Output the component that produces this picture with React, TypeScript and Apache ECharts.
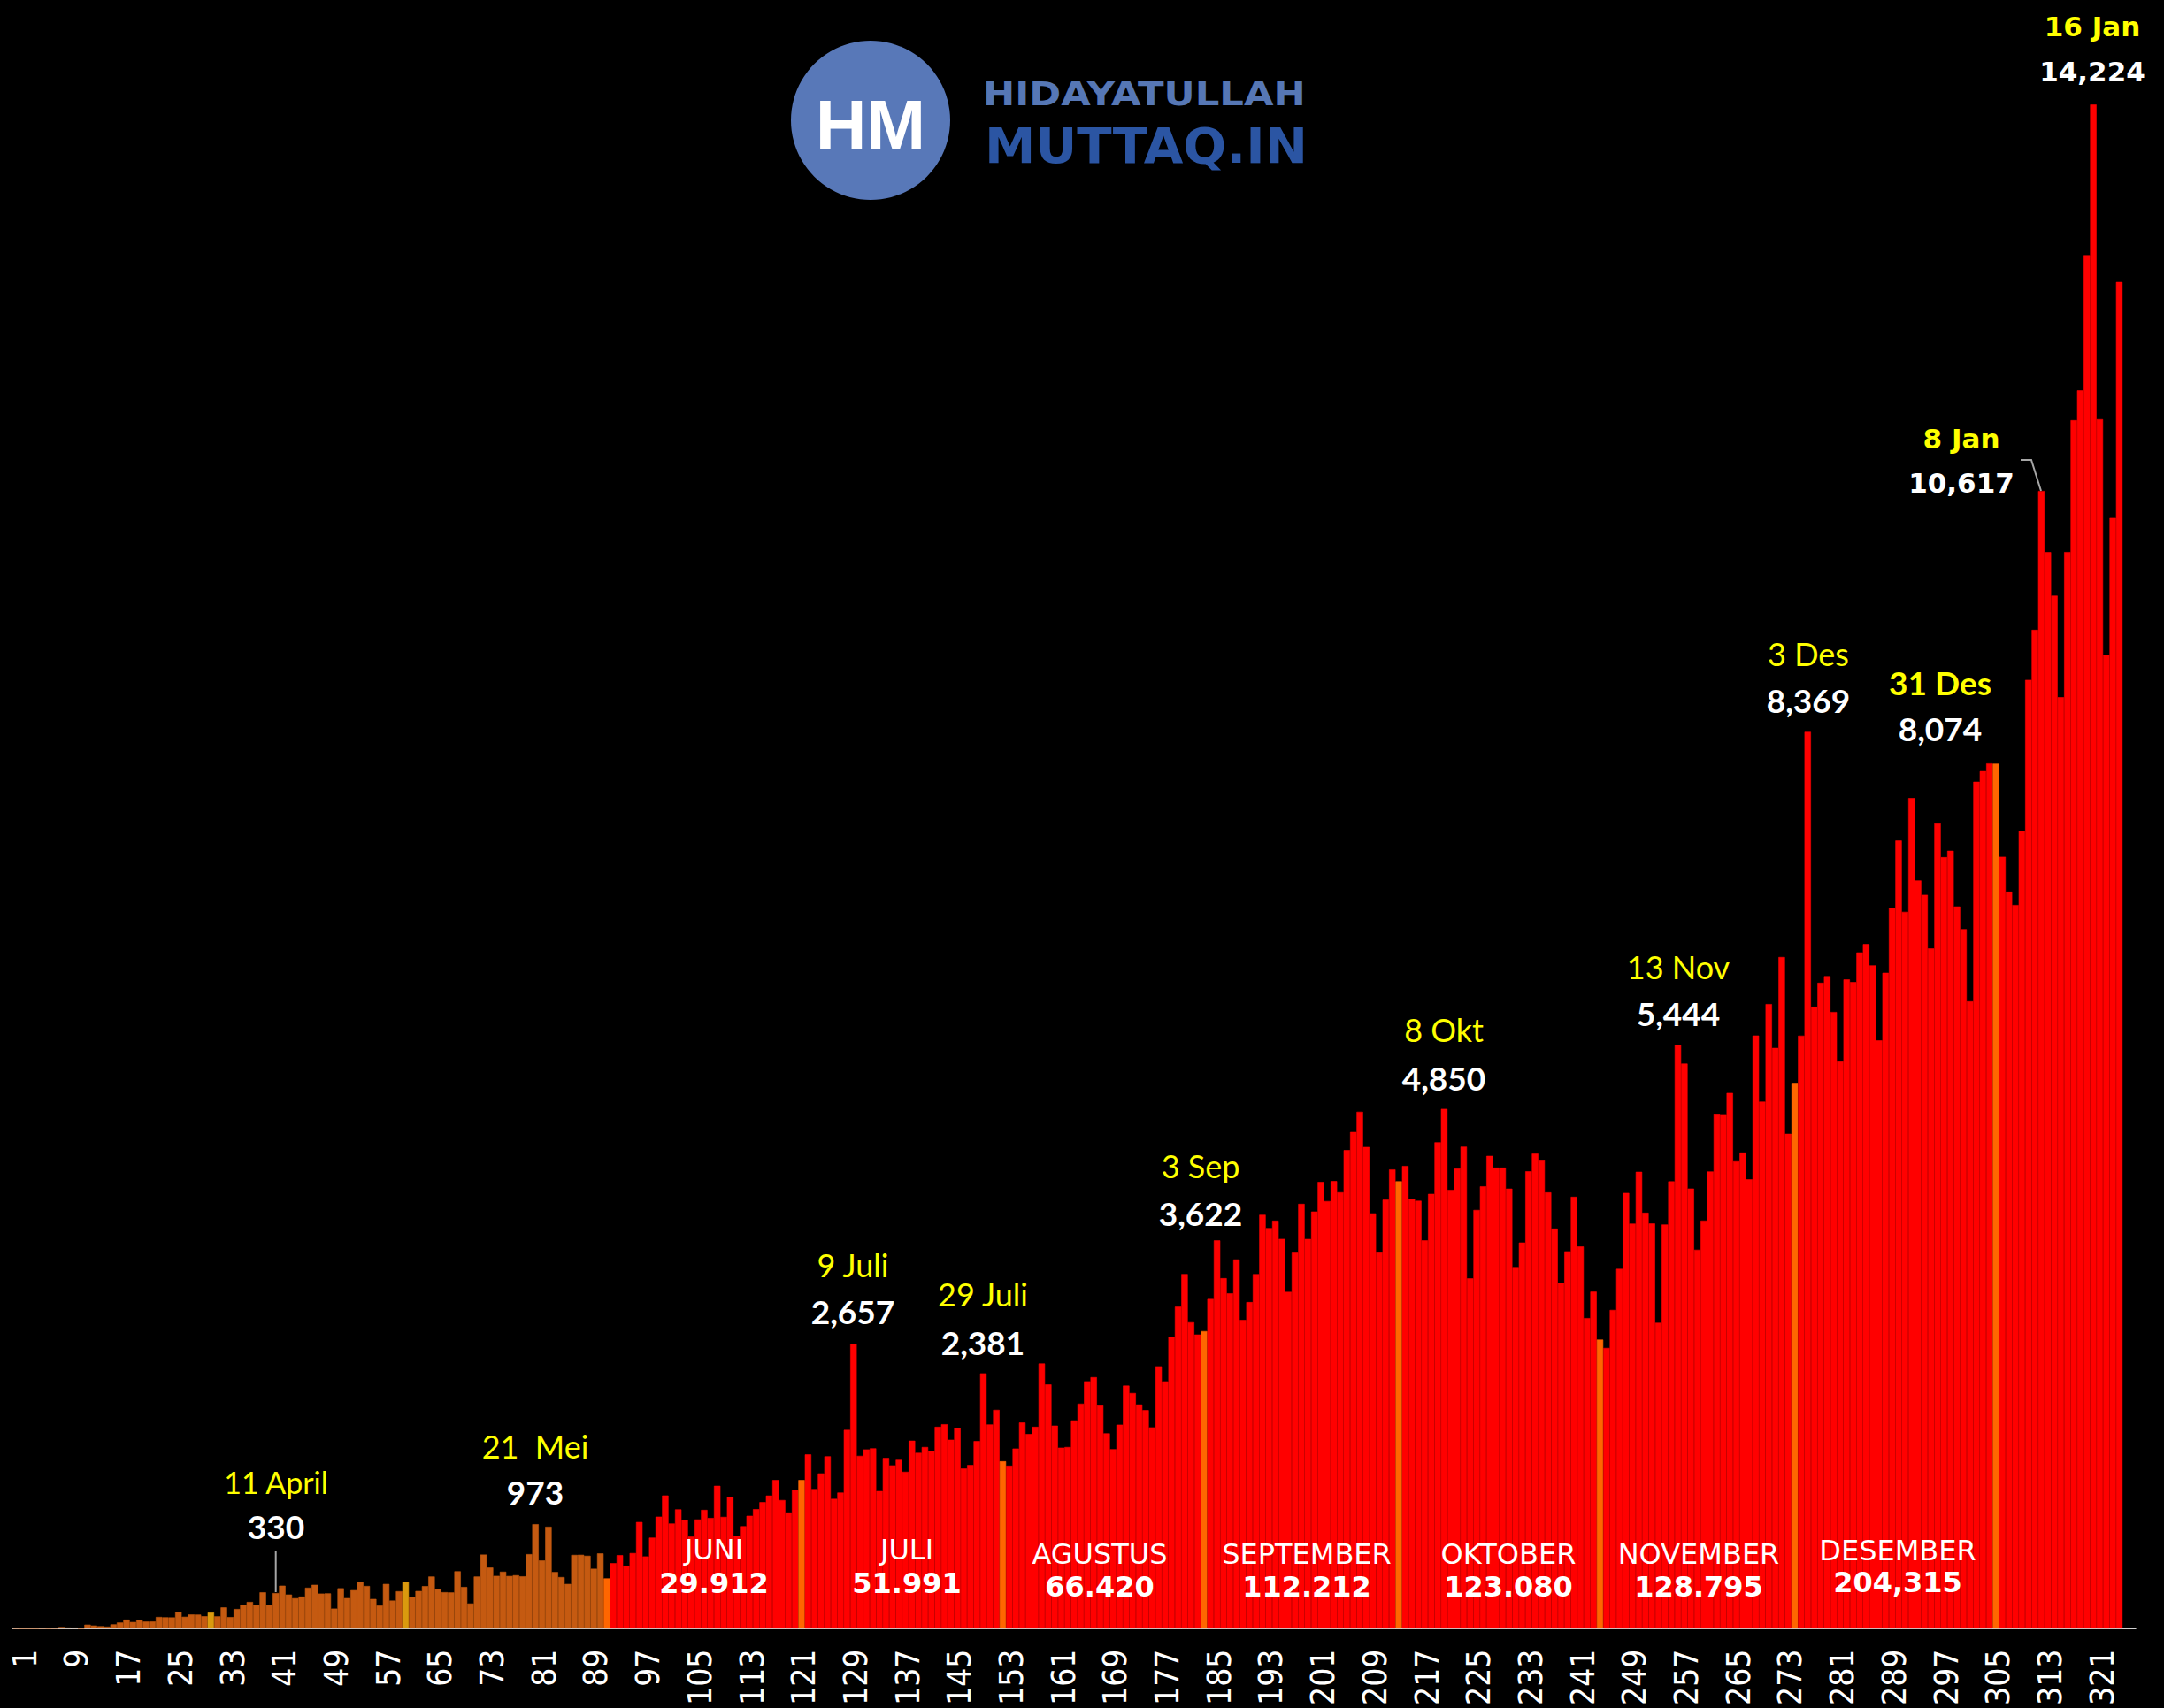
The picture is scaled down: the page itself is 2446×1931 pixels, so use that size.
import React, { useEffect, useRef } from "react";
import * as echarts from "echarts";

// Daily new COVID-19 cases, Indonesia, 2 Mar 2020 .. 20 Jan 2021 (day 1 = 2 March)
const marchCases = [2, 0, 0, 0, 2, 0, 2, 13, 8, 7, 0, 35, 27, 21, 17, 38, 55, 82, 60, 81, 64, 65, 107, 104, 103, 153, 109, 130, 129, 114];
const aprilCases = [149, 113, 196, 106, 181, 218, 247, 218, 337, 219, 330, 399, 316, 282, 297, 380, 407, 325, 327, 185, 375, 283, 357, 436, 396, 275, 214, 415, 260, 347];
const mayCases = [433, 292, 349, 395, 484, 367, 338, 336, 533, 387, 233, 484, 689, 568, 490, 529, 489, 496, 486, 693, 973, 634, 949, 526, 479, 415, 686, 687, 678, 557, 700];
const juneCases = [467, 609, 684, 585, 703, 993, 672, 847, 1043, 1241, 979, 1111, 1014, 857, 1017, 1106, 1031, 1331, 1041, 1226, 862, 954, 1051, 1113, 1178, 1240, 1385, 1198, 1082, 1293];
const julyCases = [1385, 1624, 1301, 1447, 1607, 1209, 1268, 1853, 2657, 1611, 1671, 1681, 1282, 1591, 1522, 1574, 1462, 1752, 1639, 1693, 1655, 1882, 1906, 1761, 1868, 1492, 1525, 1748, 2381, 1904, 2040];
const augustCases = [1560, 1519, 1679, 1922, 1815, 1882, 2473, 2277, 1893, 1687, 1693, 1942, 2098, 2307, 2345, 2081, 1821, 1673, 1902, 2266, 2197, 2090, 2037, 1877, 2447, 2306, 2719, 3003, 3308, 2858, 2743];
const septemberCases = [2775, 3075, 3622, 3269, 3128, 3444, 2880, 3046, 3307, 3861, 3737, 3806, 3636, 3141, 3507, 3963, 3635, 3891, 4168, 3989, 4176, 4071, 4465, 4634, 4823, 4494, 3874, 3509, 4002, 4284];
const octoberCases = [4174, 4317, 4007, 3992, 3622, 4056, 4538, 4850, 4094, 4294, 4497, 3267, 3906, 4127, 4411, 4301, 4301, 4105, 3373, 3602, 4267, 4432, 4369, 4070, 3732, 3222, 3520, 4029, 3565, 2897, 3143];
const novemberCases = [2696, 2618, 2973, 3356, 4065, 3778, 4262, 3880, 3779, 2853, 3770, 4173, 5444, 5272, 4106, 3535, 3807, 4265, 4798, 4792, 4998, 4360, 4442, 4192, 5534, 4917, 5828, 5418, 6267, 4617];
const decemberCases = [5092, 5533, 8369, 5803, 6027, 6089, 5754, 5292, 6058, 6033, 6310, 6388, 6189, 5489, 6120, 6726, 7354, 6689, 7751, 6982, 6848, 6347, 7514, 7199, 7259, 6739, 6528, 5854, 7903, 8002, 8074];
const januaryCases = [8072, 7203, 6877, 6753, 7445, 8854, 9321, 10617, 10046, 9640, 8692, 10047, 11278, 11557, 12818, 14224, 11287, 9086, 10365, 12568];
const trailingEmptyDays = 2;

const monthSeries = [marchCases, aprilCases, mayCases, juneCases, julyCases, augustCases, septemberCases, octoberCases, novemberCases, decemberCases, januaryCases];

// Month captions and totals written on the bars
const monthNames = ["JUNI", "JULI", "AGUSTUS", "SEPTEMBER", "OKTOBER", "NOVEMBER", "DESEMBER"];
const monthTotals = ["29.912", "51.991", "66.420", "112.212", "123.080", "128.795", "204,315"];

// Highlighted peaks
const peakDates = ["11 April", "21  Mei", "9 Juli", "29 Juli", "3 Sep", "8 Okt", "13 Nov", "3 Des", "31 Des", "8 Jan", "16 Jan"];
const peakValues = ["330", "973", "2,657", "2,381", "3,622", "4,850", "5,444", "8,369", "8,074", "10,617", "14,224"];

// ---------- styles / layout (kept apart from the data) ----------
const COLOR_EARLY = "#C55A11";
const COLOR_EARLY_MONTHSTART = "#DA9A0E";
const COLOR_MAIN = "#FF0000";
const COLOR_MONTHSTART = "#FF6600";
const YELLOW = "#FFFF00";
const WHITE = "#FFFFFF";

const peakLayout = [
  { x: 312, yDate: 1675, yValue: 1725, kind: "small" },
  { x: 605, yDate: 1635, yValue: 1686, kind: "normal" },
  { x: 964, yDate: 1430, yValue: 1482, kind: "normal" },
  { x: 1111, yDate: 1463, yValue: 1517, kind: "normal" },
  { x: 1357, yDate: 1318, yValue: 1371, kind: "normal" },
  { x: 1632, yDate: 1164, yValue: 1218, kind: "normal" },
  { x: 1897, yDate: 1093, yValue: 1145, kind: "normal" },
  { x: 2044, yDate: 739, yValue: 791, kind: "normal" },
  { x: 2193, yDate: 771, yValue: 823, kind: "bold" },
  { x: 2217, yDate: 496, yValue: 546, kind: "wide" },
  { x: 2365, yDate: 30, yValue: 81, kind: "wide" },
];

const monthLayout = [
  { x: 807, yName: 1752, yTotal: 1790 },
  { x: 1025, yName: 1752, yTotal: 1790 },
  { x: 1243, yName: 1757, yTotal: 1794 },
  { x: 1477, yName: 1757, yTotal: 1794 },
  { x: 1705, yName: 1757, yTotal: 1794 },
  { x: 1920, yName: 1757, yTotal: 1794 },
  { x: 2145, yName: 1753, yTotal: 1789 },
];

const W = 2446;
const H = 1931;
const PLOT_LEFT = 14.6;
const PLOT_WIDTH = 2399.2;
const PLOT_HEIGHT = 1841;
const LABEL_SHIFT = 10;

function buildBars() {
  const items: any[] = [];
  monthSeries.forEach((month, mi) => {
    month.forEach((v, di) => {
      let color;
      if (mi < 3) color = di === 0 && mi > 0 ? COLOR_EARLY_MONTHSTART : COLOR_EARLY;
      else color = di === 0 ? COLOR_MONTHSTART : COLOR_MAIN;
      items.push({ value: v, itemStyle: { color, borderColor: color, borderWidth: 0.6 } });
    });
  });
  for (let i = 0; i < trailingEmptyDays; i++) items.push({ value: null });
  return items;
}

function textEl(text: string, x: number, y: number, font: string, fill: string) {
  return {
    type: "text",
    x,
    y,
    z: 100,
    silent: true,
    style: {
      text,
      font,
      fill,
      align: "center",
      verticalAlign: "middle",
      textAlign: "center",
      textVerticalAlign: "middle",
    },
  };
}

export default function App() {
  const ref = useRef<HTMLDivElement>(null);

  useEffect(() => {
    if (!ref.current) return;
    const chart = echarts.init(ref.current, null, { renderer: "svg", width: W, height: H });
    const bars = buildBars();
    const categories = bars.map((_, i) => String(i + 1));

    const graphics: any[] = [];
    // logo
    graphics.push({ type: "circle", z: 100, silent: true, shape: { cx: 984, cy: 136, r: 90 }, style: { fill: "#5878B8" } });
    graphics.push(textEl("HM", 984, 141, "bold 80px 'Liberation Sans'", WHITE));
    graphics.push({
      type: "text", z: 100, silent: true, x: 1111, y: 106, scaleX: 1.14,
      style: { text: "HIDAYATULLAH", font: "bold 38px 'DejaVu Sans'", fill: "#5677B5", align: "left", verticalAlign: "middle", textAlign: "left", textVerticalAlign: "middle" },
    });
    graphics.push({
      type: "text", z: 100, silent: true, x: 1113, y: 164, scaleX: 1.03,
      style: { text: "MUTTAQ.IN", font: "bold 56px 'DejaVu Sans'", fill: "#2B55A3", align: "left", verticalAlign: "middle", textAlign: "left", textVerticalAlign: "middle" },
    });

    // month captions
    monthNames.forEach((name, i) => {
      const l = monthLayout[i];
      graphics.push(textEl(name, l.x, l.yName, "32px 'DejaVu Sans'", WHITE));
      graphics.push(textEl(monthTotals[i], l.x, l.yTotal, "bold 32px 'DejaVu Sans'", WHITE));
    });

    // peak annotations
    peakDates.forEach((d, i) => {
      const l = peakLayout[i];
      let dateFont = "36px Lato";
      let valueFont = "bold 37px Lato";
      if (l.kind === "small") dateFont = "34px Lato";
      if (l.kind === "bold") dateFont = "bold 37px Lato";
      if (l.kind === "wide") {
        dateFont = "bold 31px 'DejaVu Sans'";
        valueFont = "bold 31px 'DejaVu Sans'";
      }
      graphics.push(textEl(d, l.x, l.yDate, dateFont, YELLOW));
      graphics.push(textEl(peakValues[i], l.x, l.yValue, valueFont, WHITE));
    });

    // leader lines
    graphics.push({ type: "line", z: 100, silent: true, shape: { x1: 311.7, y1: 1753, x2: 311.7, y2: 1800 }, style: { stroke: "#A6A6A6", lineWidth: 2 } });
    graphics.push({ type: "polyline", z: 100, silent: true, shape: { points: [[2284, 520], [2296, 520], [2307, 555]] }, style: { stroke: "#A6A6A6", lineWidth: 2, fill: null } });

    chart.setOption({
      animation: false,
      backgroundColor: "#000000",
      grid: [
        { left: PLOT_LEFT, top: 0, width: PLOT_WIDTH, height: PLOT_HEIGHT, containLabel: false },
        { left: PLOT_LEFT + LABEL_SHIFT, top: 0, width: PLOT_WIDTH, height: PLOT_HEIGHT, containLabel: false },
      ],
      xAxis: [
        {
          type: "category",
          gridIndex: 0,
          data: categories,
          boundaryGap: true,
          axisLine: { show: true, lineStyle: { color: "#D0D0D0", width: 2 } },
          axisTick: { show: false },
          axisLabel: { show: false },
          splitLine: { show: false },
        },
        {
          type: "category",
          gridIndex: 1,
          data: categories,
          boundaryGap: true,
          axisLine: { show: false },
          axisTick: { show: false },
          axisLabel: {
            interval: 7,
            rotate: 90,
            color: WHITE,
            fontSize: 37,
            fontFamily: "'DejaVu Sans Condensed', 'DejaVu Sans'",
            margin: 27,
          },
          splitLine: { show: false },
        },
      ],
      yAxis: [
        { type: "value", gridIndex: 0, min: 0, max: 15200, show: false, splitLine: { show: false } },
        { type: "value", gridIndex: 1, min: 0, max: 1, show: false, splitLine: { show: false } },
      ],
      series: [
        {
          type: "bar",
          xAxisIndex: 0,
          yAxisIndex: 0,
          data: bars,
          barCategoryGap: "0%",
          barGap: "0%",
        },
      ],
      graphic: { elements: graphics },
    });

    return () => chart.dispose();
  }, []);

  return (
    <div
      ref={ref}
      style={{ position: "fixed", left: 0, top: 0, width: W, height: H, background: "#000" }}
    />
  );
}
